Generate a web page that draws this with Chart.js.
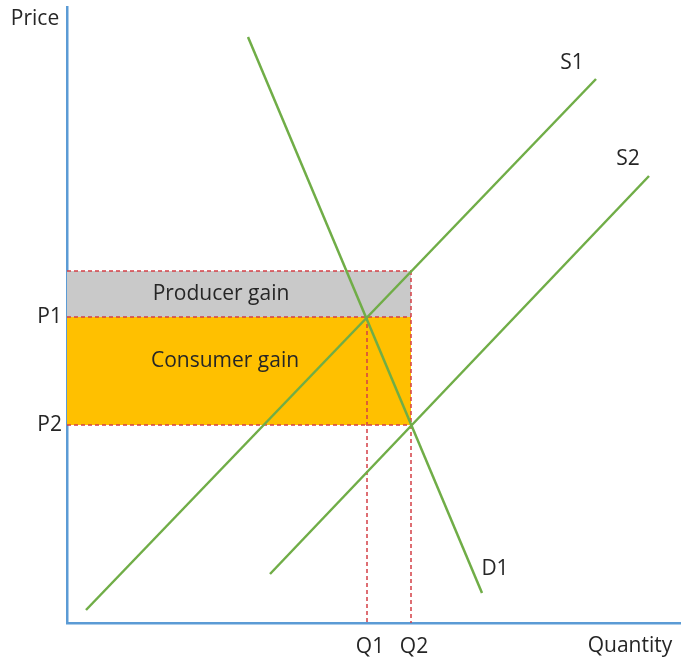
<!DOCTYPE html>
<html>
<head>
<meta charset="utf-8">
<script src="https://cdn.jsdelivr.net/npm/chart.js@4/dist/chart.umd.min.js"></script>
<style>
  html, body { margin: 0; padding: 0; background: #ffffff; }
  canvas { display: block; }
</style>
</head>
<body>
<canvas id="c" width="681" height="663"></canvas>
<script>
// ---- data (quantity on x, price on y, arbitrary units) ----
const axisMax = { quantity: 614, price: 616 };
const S1 = [{ x: 19, y: 13 }, { x: 529, y: 544 }];
const S2 = [{ x: 203, y: 49 }, { x: 582, y: 447 }];
const D1 = [{ x: 181, y: 586 }, { x: 415, y: 30 }];
const priceLevels = { top: 352, P1: 306, P2: 198 };
const quantityLevels = { Q1: 300, Q2: 344 };
const yTickValues = [priceLevels.P2, priceLevels.P1];
const yTickLabels = ['P2', 'P1'];
const xTickValues = [quantityLevels.Q1, quantityLevels.Q2];
const xTickLabels = ['Q1', 'Q2'];
const curveLabels = [
  { text: 'S1', x: 505, y: 560 },
  { text: 'S2', x: 561, y: 464 },
  { text: 'D1', x: 428, y: 54 },
  { text: 'Producer gain', x: 154, y: 329 },
  { text: 'Consumer gain', x: 158, y: 262 },
  { text: 'Price', x: -32, y: 604 },
  { text: 'Quantity', x: 563, y: -23 }
];

const GREEN = '#70AD47';
const BLUE = '#5B9BD5';
const RED = '#D43F45';
const GREY = '#C9C9C9';
const ORANGE = '#FFC000';
const TEXT = '#262626';
const FONT = '"Open Sans", Lato, sans-serif';
const FONT_SIZE = 21;

function lineDs(data, color, width, dash, order) {
  return {
    data, showLine: true, borderColor: color, borderWidth: width,
    borderDash: dash || [], pointRadius: 0, fill: false, tension: 0, order
  };
}

const datasets = [
  lineDs(S1, GREEN, 2.5, null, 0),
  lineDs(S2, GREEN, 2.5, null, 0),
  lineDs(D1, GREEN, 2.5, null, 0),
  lineDs([{ x: 0, y: priceLevels.top }, { x: quantityLevels.Q2, y: priceLevels.top }], RED, 1.5, [4, 3], 1),
  lineDs([{ x: 0, y: priceLevels.P1 }, { x: quantityLevels.Q2, y: priceLevels.P1 }], RED, 1.5, [4, 3], 1),
  lineDs([{ x: 0, y: priceLevels.P2 }, { x: quantityLevels.Q2, y: priceLevels.P2 }], RED, 1.5, [4, 3], 1),
  lineDs([{ x: quantityLevels.Q1, y: priceLevels.P1 }, { x: quantityLevels.Q1, y: 0 }], RED, 1.5, [4, 3], 1),
  lineDs([{ x: quantityLevels.Q2, y: priceLevels.top }, { x: quantityLevels.Q2, y: 0 }], RED, 1.5, [4, 3], 1),
  {
    data: [{ x: 0, y: priceLevels.top }, { x: quantityLevels.Q2, y: priceLevels.top }],
    showLine: true, borderWidth: 0, borderColor: 'rgba(0,0,0,0)', pointRadius: 0,
    backgroundColor: GREY, fill: { value: priceLevels.P1 }, order: 2
  },
  {
    data: [{ x: 0, y: priceLevels.P1 }, { x: quantityLevels.Q2, y: priceLevels.P1 }],
    showLine: true, borderWidth: 0, borderColor: 'rgba(0,0,0,0)', pointRadius: 0,
    backgroundColor: ORANGE, fill: { value: priceLevels.P2 }, order: 2
  }
];

const labelPlugin = {
  id: 'labels',
  afterDraw(chart) {
    const { ctx, scales: { x, y } } = chart;
    ctx.save();
    ctx.fillStyle = TEXT;
    ctx.font = FONT_SIZE + 'px ' + FONT;
    ctx.textAlign = 'center';
    ctx.textBaseline = 'middle';
    curveLabels.forEach(l => {
      ctx.fillText(l.text, x.getPixelForValue(l.x), y.getPixelForValue(l.y));
    });
    ctx.restore();
  }
};

function noPad(s) {
  s.paddingTop = 0; s.paddingBottom = 0; s.paddingLeft = 0; s.paddingRight = 0;
}

new Chart(document.getElementById('c'), {
  type: 'scatter',
  data: { datasets },
  options: {
    responsive: false,
    animation: false,
    layout: { padding: { top: 7, right: 0, bottom: 0, left: 0 } },
    plugins: { legend: { display: false }, tooltip: { enabled: false } },
    scales: {
      x: {
        type: 'linear', min: 0, max: axisMax.quantity,
        grid: { display: false, drawTicks: false },
        border: { display: true, color: BLUE, width: 2.5 },
        afterFit: s => { s.height = 40; noPad(s); },
        afterBuildTicks: s => { s.ticks = xTickValues.map(v => ({ value: v })); },
        ticks: {
          autoSkip: false, maxRotation: 0, padding: 11, labelOffset: 3, color: TEXT,
          font: { family: FONT, size: FONT_SIZE },
          callback: (v) => xTickLabels[xTickValues.indexOf(v)]
        }
      },
      y: {
        type: 'linear', min: 0, max: axisMax.price,
        grid: { display: false, drawTicks: false },
        border: { display: true, color: BLUE, width: 2.5 },
        afterFit: s => { s.width = 67; noPad(s); },
        afterBuildTicks: s => { s.ticks = yTickValues.map(v => ({ value: v })); },
        ticks: {
          autoSkip: false, padding: 5, color: TEXT,
          font: { family: FONT, size: FONT_SIZE },
          callback: (v) => yTickLabels[yTickValues.indexOf(v)]
        }
      }
    }
  },
  plugins: [labelPlugin]
});
</script>
</body>
</html>
